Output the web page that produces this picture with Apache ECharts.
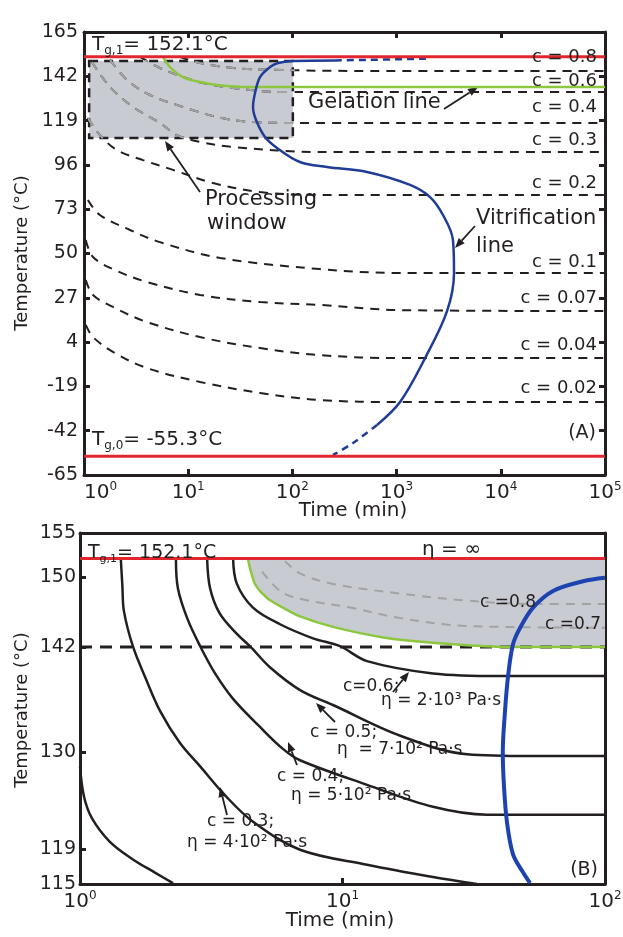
<!DOCTYPE html>
<html><head><meta charset="utf-8">
<script src="https://cdn.jsdelivr.net/npm/echarts@6/dist/echarts.min.js"></script>
<style>html,body{margin:0;padding:0;background:#fff}#c{width:623px;height:937px}</style>
</head><body><div id="c"></div><script>
// ---------------- DATA ----------------
// Panel A axes
const aTimeMin = 1, aTimeMax = 100000;
const aTempTicks = [165, 142, 119, 96, 73, 50, 27, 4, -19, -42, -65];
const TG1 = 152.1, TG0 = -55.3;
// Panel A isoconversion curves (time min, temperature °C)
const aC08_t = [8.3, 13.0, 26.9, 81, 357, 100000];
const aC08_T = [152.1, 148.9, 146.3, 145.3, 144.8, 144.8];
const aC06_t = [3.45, 5.36, 8.34, 13.9, 26.9, 81, 357, 100000];
const aC06_T = [152.1, 146.3, 142.2, 138.5, 135.9, 133.8, 133.8, 133.8];
const aC04_t = [1.78, 2.59, 4.30, 8.91, 18.9, 39.2, 101, 100000];
const aC04_T = [150.5, 140.1, 132.3, 126.1, 120.9, 118.3, 117.8, 117.8];
const aC03_t = [1.19, 1.78, 2.95, 5.36, 7.81, 13.0, 26.9, 184, 100000];
const aC03_T = [149.4, 136.4, 126.1, 117.8, 111.5, 107.9, 105.3, 102.7, 102.7];
const aC02_t = [1.09, 1.42, 2.07, 3.68, 7.15, 17.3, 48.9, 184, 100000];
const aC02_T = [120.3, 111.5, 103.7, 98.5, 93.4, 86.6, 81.9, 80.4, 80.4];
const aC01_t = [1.09, 1.42, 2.76, 5.36, 20.2, 184, 1079, 100000];
const aC01_T = [77.8, 70.0, 62.2, 55.9, 47.7, 41.9, 39.9, 39.9];
const aLow_t = [1.04, 1.22, 1.98, 4.02, 13.0, 48.9, 184, 1079, 100000];
const aC007_T = [57.0, 48.2, 41.4, 35.2, 28.5, 24.8, 23.3, 20.6, 20.1];
const aC004_T = [36.2, 28.5, 21.7, 14.4, 6.6, 0.9, -2.8, -4.3, -4.3];
const aC002_T = [12.9, 6.6, -1.7, -9.5, -16.7, -22.4, -26.1, -27.1, -27.1];
const aIsoLabels = ['c = 0.8', 'c = 0.6', 'c = 0.4', 'c = 0.3', 'c = 0.2', 'c = 0.1', 'c = 0.07', 'c = 0.04', 'c = 0.02'];
// Gelation line A
const aGel_t = [5.73, 6.69, 8.91, 13.0, 18.9, 39.2, 100000];
const aGel_T = [152.1, 146.8, 141.6, 139.0, 137.5, 136.4, 136.4];
// Vitrification line A (solid part, then dashed ends)
const aVit_t = [256, 101, 72.7, 61.0, 48.9, 43.8, 41.9, 44.8, 54.6, 71.2, 118, 215, 520, 1346, 2094, 2786, 3475, 3556, 3048, 1875, 1079, 649];
const aVit_T = [150.2, 149.9, 148.9, 146.8, 141.6, 133.3, 126.1, 119.3, 110.5, 104.8, 97.5, 94.9, 92.3, 85.6, 79.3, 70.0, 57.0, 39.9, 20.1, -4.3, -27.1, -39.0];
const aVitTop_t = [256, 2094];
const aVitTop_T = [150.2, 151.2];
const aVitBot_t = [649, 382, 245];
const aVitBot_T = [-39.0, -48.4, -54.6];
// Processing window
const boxTime = [1.12, 101];
const boxTemp = [110, 149.9];

// Panel B axes
const bTimeMin = 1, bTimeMax = 100;
const bTempLabels = [115, 119, 130, 142, 150, 155];
const bTempTicks = [119, 130, 142, 150];
const bGelTemp = 142;
// Panel B curves
const bC02_t = [1.0, 1.035, 1.11, 1.30, 1.59, 1.93, 2.26];
const bC02_T = [128.4, 125.0, 122.5, 119.8, 117.8, 116.3, 115.1];
const bC03_t = [1.43, 1.45, 1.47, 1.59, 1.77, 2.02, 2.40, 2.87, 3.57, 4.56, 6.89, 12.4, 22.1, 32.5];
const bC03_T = [152.1, 149.0, 146.1, 142.1, 138.6, 134.7, 131.1, 128.4, 125.1, 122.1, 118.9, 117.2, 115.8, 115.0];
const bC04_t = [2.32, 2.36, 2.56, 2.87, 3.27, 3.83, 4.85, 5.93, 6.89, 12.4, 22.1, 35.5, 100];
const bC04_T = [152.1, 148.7, 145.3, 142.1, 139.0, 136.1, 132.9, 130.4, 129.1, 126.3, 123.8, 122.9, 122.9];
const bC05_t = [3.05, 3.13, 3.41, 3.96, 4.44, 5.29, 6.89, 9.20, 16.6, 29.8, 51.8, 100];
const bC05_T = [152.1, 148.7, 145.8, 143.5, 142.1, 139.7, 137.1, 135.4, 131.9, 129.8, 129.6, 129.6];
const bC06_t = [3.83, 3.96, 4.56, 5.78, 7.72, 9.78, 12.4, 22.1, 39.8, 100];
const bC06_T = [152.1, 149.2, 146.5, 144.6, 143.0, 142.1, 140.4, 139.0, 138.7, 138.7];
const bGel_t = [4.36, 4.48, 4.68, 5.16, 5.93, 6.89, 9.20, 14.3, 22.1, 44.7, 100];
const bGel_T = [152.1, 150.6, 149.0, 147.6, 146.5, 145.5, 144.3, 143.1, 142.5, 142.0, 142.0];
const bC08_t = [6.04, 6.89, 9.20, 16.6, 29.8, 53.2, 100];
const bC08_T = [151.8, 150.4, 149.2, 148.1, 147.3, 146.9, 146.9];
const bC07_t = [4.94, 5.78, 6.89, 10.7, 16.6, 29.8, 100];
const bC07_T = [150.6, 148.4, 147.5, 146.5, 145.3, 144.4, 144.2];
const bVit_t = [100, 82.5, 63.4, 53.2, 47.5, 44.6, 42.7, 41.6, 40.8, 41.2, 42.3, 44.6, 48.3, 51.8];
const bVit_T = [149.9, 149.5, 148.4, 146.5, 144.2, 142.3, 138.6, 134.7, 130.0, 126.3, 122.1, 118.4, 116.5, 115.1];

// ---------------- STYLE ----------------
const FONT = 'DejaVu Sans';
const BLACK = '#231f20', RED = '#e3262d', GREEN = '#8dc63f', BLUE_A = '#1f3c96', BLUE_B = '#1d43b0';
const FILL = '#c9cbd3', GRAYDASH = '#a3a3a3';

function pairs(t, T) { return t.map((v, i) => [v, T[i]]); }
const supRich = {
  b: { fontSize: 20, fontFamily: FONT, color: BLACK, lineHeight: 24 },
  s: { fontSize: 12, fontFamily: FONT, color: BLACK, verticalAlign: 'top', lineHeight: 24 }
};
const logFmt = v => '{b|10}{s|' + Math.round(Math.log10(v)) + '}';

function xAxisMain(grid, min, max, alignMin) {
  return {
    gridIndex: grid, type: 'log', logBase: 10, min, max, position: 'bottom',
    axisLine: { show: true, onZero: false, lineStyle: { color: BLACK, width: 3 } },
    axisTick: { show: true, inside: true, length: 6, lineStyle: { color: BLACK, width: 3 } },
    minorTick: { show: false }, splitLine: { show: false },
    axisLabel: { formatter: logFmt, rich: supRich, margin: 6, showMinLabel: true, showMaxLabel: true, alignMinLabel: alignMin }
  };
}
function xAxisTop(grid, min, max, ticks) {
  return {
    gridIndex: grid, type: 'log', logBase: 10, min, max, position: 'top',
    axisLine: { show: true, onZero: false, lineStyle: { color: BLACK, width: 3 } },
    axisTick: { show: ticks, inside: true, length: 6, lineStyle: { color: BLACK, width: 3 } },
    axisLabel: { show: false }, splitLine: { show: false }
  };
}
function yAxisMain(grid, min, max, labels, ticks, margin) {
  return {
    gridIndex: grid, type: 'value', min, max, position: 'left',
    axisLine: { show: true, onZero: false, lineStyle: { color: BLACK, width: 3 } },
    axisTick: { show: true, inside: true, length: 6, customValues: ticks, lineStyle: { color: BLACK, width: 3 } },
    axisLabel: { customValues: labels, fontFamily: FONT, fontSize: 19, color: BLACK, margin },
    splitLine: { show: false }
  };
}
function yAxisRight(grid, min, max, ticks) {
  return {
    gridIndex: grid, type: 'value', min, max, position: 'right',
    axisLine: { show: true, onZero: false, lineStyle: { color: BLACK, width: 3 } },
    axisTick: { show: !!ticks, inside: true, length: 6, customValues: ticks || [], lineStyle: { color: BLACK, width: 3 } },
    axisLabel: { show: false }, splitLine: { show: false }
  };
}
function line(xi, yi, data, color, width, type, z, extra) {
  return Object.assign({
    type: 'line', xAxisIndex: xi, yAxisIndex: yi, data, showSymbol: false, symbol: 'none',
    smooth: 0.35, silent: true, z,
    lineStyle: { color, width, type }
  }, extra || {});
}

const DASH_A = [9, 7];
const series = [];
// ---- Panel A ----
const aIso = [[aC08_t, aC08_T], [aC06_t, aC06_T], [aC04_t, aC04_T], [aC03_t, aC03_T], [aC02_t, aC02_T],
  [aC01_t, aC01_T], [aLow_t, aC007_T], [aLow_t, aC004_T], [aLow_t, aC002_T]];
aIso.forEach(c => series.push(line(0, 0, pairs(c[0], c[1]), BLACK, 2, DASH_A, 2)));
// processing window fill
series.push({
  type: 'line', xAxisIndex: 0, yAxisIndex: 0, data: [], z: 3, silent: true,
  markArea: { silent: true, itemStyle: { color: FILL, borderWidth: 0 },
    data: [[{ coord: [boxTime[0], boxTemp[1]] }, { coord: [boxTime[1], boxTemp[0]] }]] }
});
// grey dashed continuation inside the window (overlay grid, clipped)
aIso.slice(0, 5).forEach(c => series.push(line(4, 4, pairs(c[0], c[1]), GRAYDASH, 2, DASH_A, 4, { clip: true })));
// window border
series.push({
  type: 'line', xAxisIndex: 0, yAxisIndex: 0, data: [], z: 5, silent: true,
  markArea: { silent: true, itemStyle: { color: 'rgba(0,0,0,0)', borderColor: BLACK, borderWidth: 2.5, borderType: [9, 6] },
    data: [[{ coord: [boxTime[0], boxTemp[1]] }, { coord: [boxTime[1], boxTemp[0]] }]] }
});
series.push(line(0, 0, pairs(aGel_t, aGel_T), GREEN, 2.5, 'solid', 6));
series.push(line(0, 0, pairs(aVit_t, aVit_T), BLUE_A, 2.5, 'solid', 6));
series.push(line(0, 0, pairs(aVitTop_t, aVitTop_T), BLUE_A, 2.5, [7, 5], 6));
series.push(line(0, 0, pairs(aVitBot_t, aVitBot_T), BLUE_A, 2.5, [7, 5], 6));
series.push(line(0, 0, [[aTimeMin, TG1], [aTimeMax, TG1]], RED, 3, 'solid', 7, { smooth: false }));
series.push(line(0, 0, [[aTimeMin, TG0], [aTimeMax, TG0]], RED, 3, 'solid', 7, { smooth: false }));

// ---- Panel B ----
// eta = infinity region: between the gel line and Tg,1
series.push({
  type: 'custom', xAxisIndex: 2, yAxisIndex: 2, data: pairs(bGel_t, bGel_T), z: 3, silent: true, clip: true,
  renderItem: function (params, api) {
    if (params.dataIndex !== 0) return null;
    const pts = bGel_t.map((t, i) => api.coord([t, bGel_T[i]]));
    pts.push(api.coord([bTimeMax, TG1]));
    return { type: 'polygon', shape: { points: pts }, style: { fill: FILL } };
  }
});
series.push(line(2, 2, pairs(bGel_t, bGel_T), GREEN, 2.5, 'solid', 6));
series.push(line(2, 2, pairs(bC08_t, bC08_T), GRAYDASH, 2, [9, 7], 4));
series.push(line(2, 2, pairs(bC07_t, bC07_T), GRAYDASH, 2, [9, 7], 4));
[[bC02_t, bC02_T], [bC03_t, bC03_T], [bC04_t, bC04_T], [bC05_t, bC05_T], [bC06_t, bC06_T]]
  .forEach(c => series.push(line(2, 2, pairs(c[0], c[1]), BLACK, 2.5, 'solid', 5)));
series.push(line(2, 2, [[bTimeMin, bGelTemp], [bTimeMax, bGelTemp]], BLACK, 3, [12, 8], 5, { smooth: false }));
series.push(line(2, 2, [[bTimeMin, TG1], [bTimeMax, TG1]], RED, 3, 'solid', 7, { smooth: false }));
series.push(line(2, 2, pairs(bVit_t, bVit_T), BLUE_B, 4, 'solid', 8));

// ---------------- ANNOTATIONS ----------------
function txt(x, y, text, size, align, rot) {
  return { type: 'text', x, y, z: 100, silent: true, rotation: rot || 0,
    style: { text, fill: BLACK, font: size + 'px "' + FONT + '"', textAlign: align || 'left', textVerticalAlign: 'middle', align: align || 'left', verticalAlign: 'middle' } };
}
function subTxt(x, y, main, sub, rest, size) {
  return { type: 'text', x, y, z: 100, silent: true,
    style: { text: '{m|' + main + '}{s|' + sub + '}{m|' + rest + '}', textVerticalAlign: 'middle', verticalAlign: 'middle',
      rich: { m: { fontSize: size, fontFamily: FONT, fill: BLACK, color: BLACK, lineHeight: size + 4 },
              s: { fontSize: Math.round(size * 0.6), fontFamily: FONT, fill: BLACK, color: BLACK, verticalAlign: 'bottom', lineHeight: size + 4 } } } };
}
function arrow(x1, y1, x2, y2) {
  const a = Math.atan2(y2 - y1, x2 - x1), L = 10, W = 4;
  const bx = x2 - L * Math.cos(a), by = y2 - L * Math.sin(a);
  return { type: 'group', z: 100, silent: true, children: [
    { type: 'line', shape: { x1, y1, x2: bx, y2: by }, style: { stroke: BLACK, lineWidth: 1.8 } },
    { type: 'polygon', shape: { points: [[x2, y2], [bx - W * Math.sin(a), by + W * Math.cos(a)], [bx + W * Math.sin(a), by - W * Math.cos(a)]] }, style: { fill: BLACK } }
  ] };
}
const aLabelY = [57, 81, 107, 140, 183, 262, 298, 345, 388];
const graphics = [
  // axis titles
  txt(22, 253, 'Temperature (°C)', 18, 'center', Math.PI / 2),
  txt(22, 710, 'Temperature (°C)', 18, 'center', Math.PI / 2),
  txt(353, 511, 'Time (min)', 20, 'center'),
  txt(340, 921, 'Time (min)', 20, 'center'),
  // panel A
  subTxt(92, 45, 'T', 'g,1', '= 152.1°C', 20),
  subTxt(92, 440, 'T', 'g,0', '= -55.3°C', 20),
  txt(308, 103, 'Gelation line', 21), arrow(444, 109, 478, 87),
  txt(205, 200, 'Processing', 21), txt(207, 224, 'window', 21), arrow(200, 192, 165, 141),
  txt(476, 219, 'Vitrification', 21), txt(476, 247, 'line', 21), arrow(475, 226, 455, 248),
  txt(596, 433, '(A)', 19, 'right'),
  // panel B
  subTxt(88, 553, 'T', 'g,1', '= 152.1°C', 19),
  txt(422, 550, 'η = ∞', 20), arrow(448, 562, 439, 591),
  txt(480, 603, 'c =0.8', 17), txt(545, 625, 'c =0.7', 17),
  txt(343, 687, 'c=0.6;', 17), txt(381, 701, 'η = 2·10³ Pa·s', 17), arrow(393, 692, 409, 672),
  txt(310, 733, 'c = 0.5;', 17), txt(337, 750, 'η  = 7·10² Pa·s', 17), arrow(335, 722, 316, 703),
  txt(277, 777, 'c = 0.4;', 17), txt(291, 796, 'η = 5·10² Pa·s', 17), arrow(297, 765, 288, 742),
  txt(207, 822, 'c = 0.3;', 17), txt(187, 843, 'η = 4·10² Pa·s', 17), arrow(227, 815, 220, 787),
  txt(598, 870, '(B)', 19, 'right')
];
aIsoLabels.forEach((s, i) => graphics.push(txt(597, aLabelY[i], s, 18, 'right')));

const option = {
  animation: false,
  backgroundColor: '#fff',
  textStyle: { fontFamily: FONT },
  grid: [
    { left: 84, top: 32, width: 521, height: 443, containLabel: false, outerBoundsMode: 'none' },
    { left: 80, top: 533, width: 525, height: 351, containLabel: false, outerBoundsMode: 'none' },
    { left: 90, top: 60, width: 200, height: 78, containLabel: false, outerBoundsMode: 'none' }
  ],
  xAxis: [
    xAxisMain(0, aTimeMin, aTimeMax, 'left'), xAxisTop(0, aTimeMin, aTimeMax, true),
    xAxisMain(1, bTimeMin, bTimeMax, 'center'), xAxisTop(1, bTimeMin, bTimeMax, false),
    { gridIndex: 2, type: 'log', logBase: 10, min: boxTime[0], max: boxTime[1], show: false }
  ],
  yAxis: [
    yAxisMain(0, -65, 165, aTempTicks, aTempTicks, 6), yAxisRight(0, -65, 165, aTempTicks),
    yAxisMain(1, 115, 155, bTempLabels, bTempTicks, 4), yAxisRight(1, 115, 155, null),
    { gridIndex: 2, type: 'value', min: boxTemp[0], max: boxTemp[1], show: false }
  ],
  series,
  graphic: { elements: graphics }
};
const chart = echarts.init(document.getElementById('c'));
chart.setOption(option);
// place the overlay grid exactly on the processing window, using panel A's own scales
const p1 = chart.convertToPixel({ xAxisIndex: 0, yAxisIndex: 0 }, [boxTime[0], boxTemp[1]]);
const p2 = chart.convertToPixel({ xAxisIndex: 0, yAxisIndex: 0 }, [boxTime[1], boxTemp[0]]);
chart.setOption({ grid: [{}, {}, { left: p1[0], top: p1[1], width: p2[0] - p1[0], height: p2[1] - p1[1] }] });
</script></body></html>
